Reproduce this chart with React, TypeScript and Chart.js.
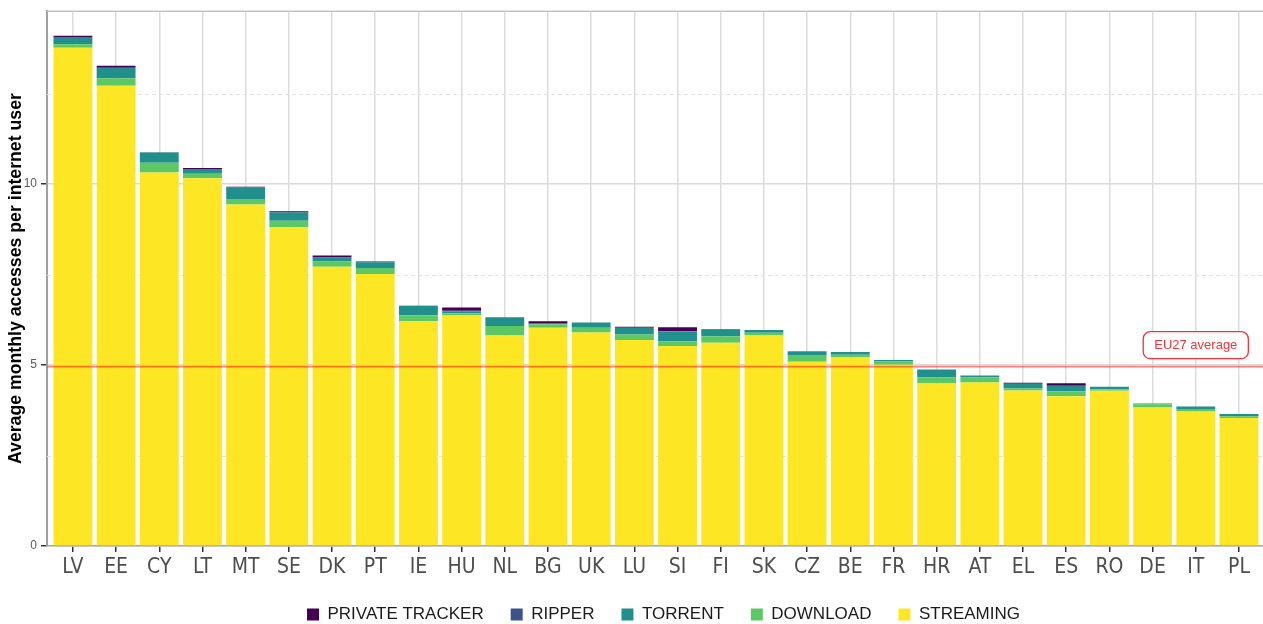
import { useEffect, useRef } from "react";
import { Chart, registerables } from "chart.js";

Chart.register(...registerables);

const countries = ["LV", "EE", "CY", "LT", "MT", "SE", "DK", "PT", "IE", "HU", "NL", "BG", "UK", "LU", "SI", "FI", "SK", "CZ", "BE", "FR", "HR", "AT", "EL", "ES", "RO", "DE", "IT", "PL"];
const streaming = [13.77, 12.72, 10.32, 10.16, 9.44, 8.81, 7.72, 7.52, 6.22, 6.37, 5.82, 6.03, 5.9, 5.69, 5.53, 5.62, 5.82, 5.09, 5.21, 5.01, 4.49, 4.52, 4.3, 4.14, 4.29, 3.83, 3.72, 3.54];
const download = [0.1, 0.21, 0.275, 0.13, 0.15, 0.18, 0.14, 0.16, 0.16, 0.065, 0.26, 0.1, 0.13, 0.155, 0.12, 0.18, 0.075, 0.19, 0.075, 0.09, 0.17, 0.14, 0.055, 0.14, 0.045, 0.09, 0.066, 0.045];
const torrent = [0.2, 0.28, 0.28, 0.13, 0.31, 0.23, 0.11, 0.16, 0.25, 0.055, 0.24, 0.035, 0.145, 0.185, 0.275, 0.18, 0.075, 0.1, 0.075, 0.04, 0.22, 0.055, 0.13, 0.14, 0.065, 0.02, 0.07, 0.066];
const ripper = [0, 0.01, 0, 0, 0.01, 0, 0, 0, 0, 0.01, 0, 0, 0, 0, 0.01, 0, 0, 0, 0, 0, 0, 0, 0, 0.01, 0, 0, 0, 0];
const privateTracker = [0.03, 0.05, 0.01, 0.03, 0.02, 0.03, 0.055, 0.02, 0.01, 0.09, 0, 0.045, 0, 0.03, 0.11, 0.02, 0, 0, 0, 0, 0, 0, 0.03, 0.065, 0, 0, 0, 0];

const seriesNames = ["STREAMING", "DOWNLOAD", "TORRENT", "RIPPER", "PRIVATE TRACKER"];
const seriesValues = [streaming, download, torrent, ripper, privateTracker];
const seriesColors = ["#FDE725", "#5DC863", "#21908C", "#3B528B", "#440154"];

const yTicks = [0, 5, 10];
const yMinorTicks = [2.5, 7.5, 12.5];
const yMax = 14.78;
const euAverage = 4.96;
const euLabel = "EU27 average";
const euLabelIndex = 26;
const euLabelValue = 5.55;
const yTitle = "Average monthly accesses per internet user";

const FAMILY = "'Liberation Sans', Arial, sans-serif";
const NARROW = "'Liberation Sans Narrow', 'Arial Narrow', 'DejaVu Sans Condensed', 'Liberation Sans', sans-serif";

const decorPlugin = {
  id: "decor",
  beforeDatasetsDraw(chart: any) {
    const { ctx, chartArea: a, scales } = chart;
    const y = scales.y;
    ctx.save();
    ctx.strokeStyle = "#e2e2e2";
    ctx.lineWidth = 1;
    ctx.setLineDash([4, 3]);
    for (const v of yMinorTicks) {
      const py = Math.round(y.getPixelForValue(v)) + 0.5;
      ctx.beginPath();
      ctx.moveTo(a.left, py);
      ctx.lineTo(a.right, py);
      ctx.stroke();
    }
    ctx.setLineDash([]);
    ctx.strokeStyle = "#c4c4c4";
    ctx.lineWidth = 1.5;
    ctx.beginPath();
    ctx.moveTo(a.left, a.top);
    ctx.lineTo(a.right, a.top);
    ctx.stroke();
    ctx.restore();
  },
  afterDatasetsDraw(chart: any) {
    const { ctx, chartArea: a, scales } = chart;
    const x = scales.x;
    const y = scales.y;
    ctx.save();
    const ly = y.getPixelForValue(euAverage);
    ctx.strokeStyle = "rgba(255, 20, 20, 0.55)";
    ctx.lineWidth = 1.8;
    ctx.beginPath();
    ctx.moveTo(a.left, ly);
    ctx.lineTo(a.right, ly);
    ctx.stroke();

    const cx = x.getPixelForValue(euLabelIndex);
    const cy = y.getPixelForValue(euLabelValue);
    ctx.font = `13px ${FAMILY}`;
    const tw = ctx.measureText(euLabel).width;
    const w = tw + 22;
    const h = 27;
    ctx.beginPath();
    (ctx as any).roundRect(cx - w / 2, cy - h / 2, w, h, 7);
    ctx.fillStyle = "#ffffff";
    ctx.fill();
    ctx.strokeStyle = "#f5333a";
    ctx.lineWidth = 1.3;
    ctx.stroke();
    ctx.fillStyle = "#f5333a";
    ctx.textAlign = "center";
    ctx.textBaseline = "middle";
    ctx.fillText(euLabel, cx, cy + 0.5);
    ctx.restore();
  },
};

export default function App() {
  const ref = useRef<HTMLCanvasElement>(null);

  useEffect(() => {
    Chart.defaults.font.family = FAMILY;
    const datasets = seriesNames.map((name, k) => ({
      label: name,
      data: seriesValues[k].map((v, i) => ({ x: i, y: v })),
      backgroundColor: seriesColors[k],
      borderWidth: 0,
      stack: "all",
      barPercentage: 0.9,
      categoryPercentage: 1,
    }));

    const chart = new Chart(ref.current as HTMLCanvasElement, {
      type: "bar",
      data: { datasets } as any,
      plugins: [decorPlugin],
      options: {
        animation: false,
        responsive: true,
        maintainAspectRatio: false,
        layout: { padding: { top: 9, left: 0, right: 0, bottom: 0 } },
        plugins: {
          tooltip: { enabled: false },
          legend: {
            position: "bottom",
            reverse: true,
            fullSize: false,
            labels: {
              boxWidth: 12,
              boxHeight: 12,
              padding: 27,
              color: "#1a1a1a",
              font: { size: 17, family: FAMILY },
            },
          },
        },
        scales: {
          x: {
            type: "linear",
            offset: false,
            min: -0.6,
            max: 27.95,
            afterBuildTicks: (s: any) => {
              s.ticks = countries.map((_, i) => ({ value: i }));
            },
            afterFit: (s: any) => {
              s.height = 33;
            },
            ticks: {
              autoSkip: false,
              maxRotation: 0,
              minRotation: 0,
              padding: 3,
              color: "#4d4d4d",
              font: { size: 21, family: NARROW },
              callback: (v: any) => countries[v] ?? "",
            },
            grid: { offset: false, color: "#dcdcdc", lineWidth: 1.5, tickLength: 6, tickColor: "#333333", tickWidth: 1.5 },
            border: { color: "#a8a8a8", width: 1.5 },
          },
          y: {
            type: "linear",
            stacked: true,
            min: 0,
            max: yMax,
            afterBuildTicks: (s: any) => {
              s.ticks = yTicks.map((v) => ({ value: v }));
            },
            afterFit: (s: any) => {
              s.width = 47;
            },
            ticks: {
              color: "#5a5a5a",
              padding: 4,
              font: { size: 12, family: FAMILY },
              callback: (v: any) => String(v),
            },
            grid: { color: "#d9d9d9", lineWidth: 1.5, tickLength: 6, tickColor: "#333333", tickWidth: 1.5 },
            border: { color: "#a0a0a0", width: 2 },
            title: {
              display: true,
              text: yTitle,
              color: "#000000",
              font: { size: 17.7, weight: "bold", family: FAMILY },
              padding: { top: 5, bottom: 0 },
            },
          },
        },
      } as any,
    });
    return () => chart.destroy();
  }, []);

  return (
    <div style={{ position: "fixed", left: 0, top: 0, width: "100vw", height: "100vh", overflow: "hidden", background: "#ffffff" }}>
      <div style={{ position: "relative", width: 1280, height: 633 }}>
        <canvas ref={ref} />
      </div>
    </div>
  );
}
